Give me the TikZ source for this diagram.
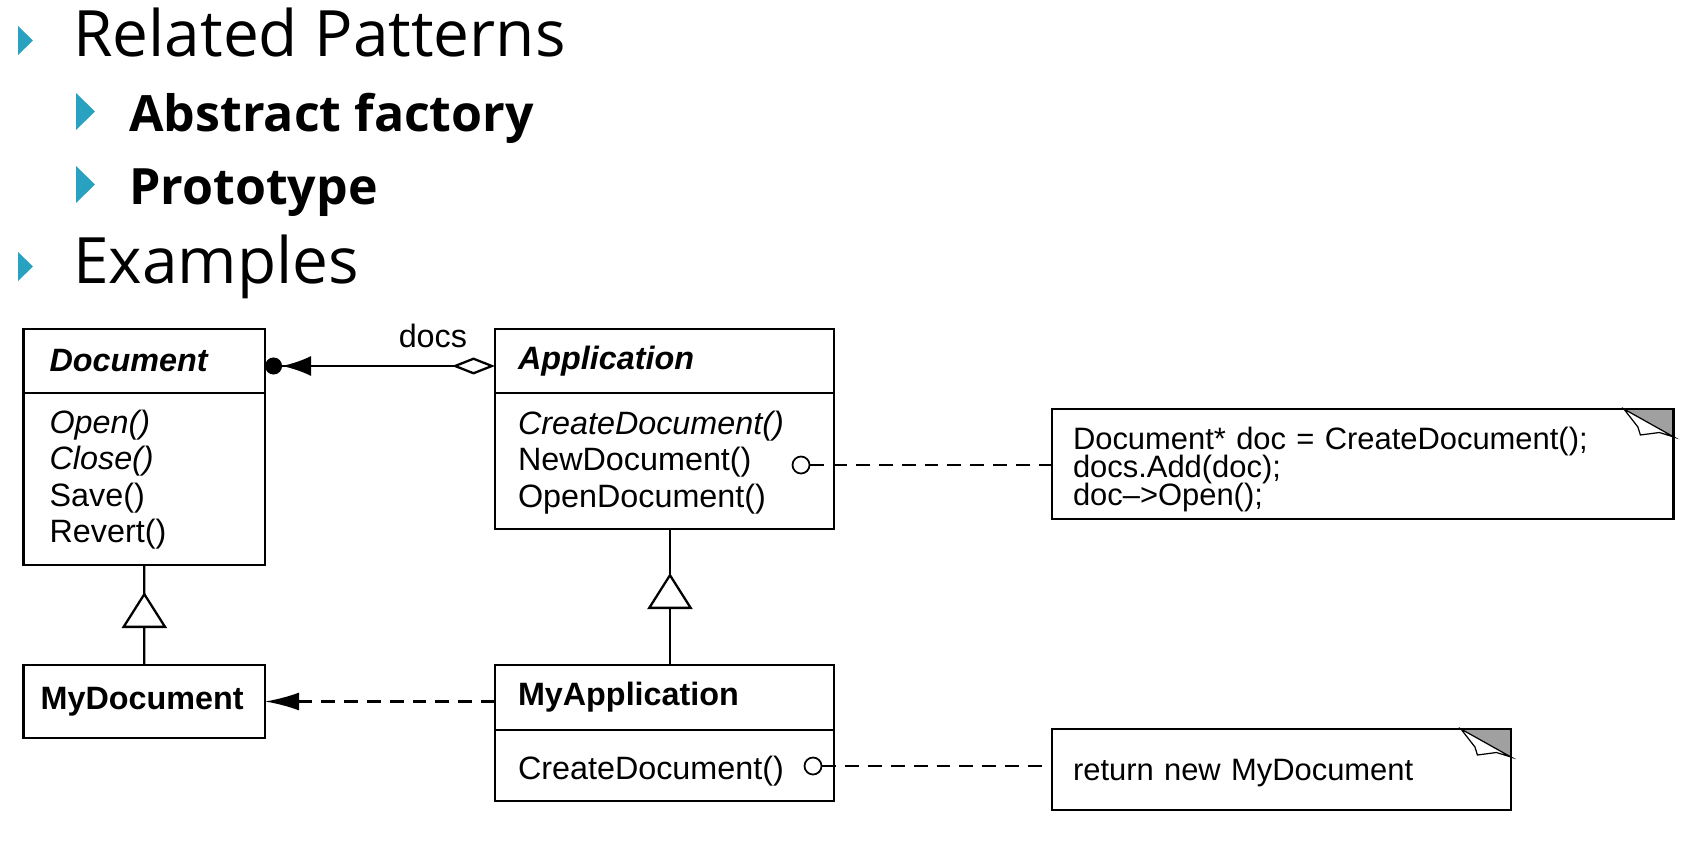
\documentclass[tikz,border=0pt]{standalone}
\usepackage{fontspec}
\newfontfamily\slidefont{Open Sans}
\newfontfamily\umlfont{Liberation Sans}
\usetikzlibrary{arrows.meta, positioning, decorations.markings}
\definecolor{bulletteal}{RGB}{41,161,192}
\definecolor{foldgray}{RGB}{160,160,160}
\newcommand{\umltext}{\umlfont\fontsize{18.4}{20.7}\selectfont}
\newcommand{\notetext}{\umlfont\fontsize{17.6}{16.2}\selectfont\lineskiplimit=-20pt}
\tikzset{
    heading/.style={anchor=base west, inner sep=0pt, font=\slidefont\fontsize{36.4}{40}\selectfont},
    subheading/.style={anchor=base west, inner sep=0pt, font=\slidefont\bfseries\fontsize{28.5}{32}\selectfont},
    classhead/.style={rectangle, draw, line width=1.6pt, outer sep=0pt, align=left, font=\umltext\bfseries},
    classbody/.style={rectangle, draw, line width=1.6pt, outer sep=0pt, align=left, font=\umltext},
    note/.style={rectangle, draw, line width=1.6pt, outer sep=0pt, align=left, inner xsep=0.42cm, font=\notetext},
    linkdot/.style={circle, draw, line width=1pt, inner sep=0pt, minimum size=0.34cm, fill=white},
    assoc/.style={line width=1.3pt},
    creates/.style={line width=1.3pt, dash pattern=on 7.9pt off 5.1pt, -{Latex[length=0.68cm, width=0.36cm]}},
    notelink/.style={line width=1.3pt, dash pattern=on 7.9pt off 5.1pt},
    generalize/.style={line width=1.3pt, postaction={decorate},
        decoration={markings, mark=at position #1 with {\arrow{Triangle[length=0.72cm, width=0.9cm, fill=white]}}}}
}
\begin{document}
\begin{tikzpicture}[x=0.02cm, y=-0.02cm]
    \useasboundingbox (0,0) rectangle (1683,845);

    % Bullet list
    \foreach \y in {26, 252}
        \fill[bulletteal] (18,\y) -- (33,\y+14.5) -- (18,\y+29) -- cycle;
    \foreach \y in {93, 166}
        \fill[bulletteal] (76,\y) -- (95,\y+18.5) -- (76,\y+37) -- cycle;
    \node (related) [heading] at (73,56) {Related Patterns};
    \node (abstract) [subheading] at (129,131) {Abstract factory};
    \node (prototype) [subheading] at (129,204) {Prototype};
    \node (examples) [heading] at (73,283) {Examples};

    % Classes
    \node (dochead) [classhead, text width=3.79cm, inner xsep=0.52cm, minimum height=1.28cm, anchor=north west] at (23.6,329) {\itshape Document};
    \node (docbody) [classbody, text width=3.79cm, inner xsep=0.52cm, minimum height=3.44cm, below=0pt of dochead] {\rule{0pt}{0.5cm}{\itshape Open()}\\{\itshape Close()}\\Save()\\Revert()};

    \node (apphead) [classhead, text width=5.86cm, inner xsep=0.46cm, minimum height=1.28cm, anchor=north west] at (495,329) {\itshape Application};
    \node (appbody) [classbody, text width=5.86cm, inner xsep=0.46cm, minimum height=2.72cm, below=0pt of apphead] {\rule{0pt}{0.53cm}{\itshape CreateDocument()}\\NewDocument()\\OpenDocument()};

    \node (mydoc) [classhead, text width=4.15cm, inner xsep=0.34cm, minimum height=1.46cm, anchor=north west] at (23.6,665) {MyDocument};

    \node (myapphead) [classhead, text width=5.86cm, inner xsep=0.46cm, minimum height=1.3cm, anchor=north west] at (495,665) {MyApplication};
    \node (myappbody) [classbody, text width=5.86cm, inner xsep=0.46cm, minimum height=1.42cm, below=0pt of myapphead] {\rule{0pt}{0.71cm}CreateDocument()};

    % Notes
    \node (codenote) [note, text width=11.6cm, minimum height=2.2cm, anchor=north west] at (1052,409) {\rule{0pt}{0.67cm}Document* doc = CreateDocument();\\docs.Add(doc);\\doc–>Open();};
    \node (returnnote) [note, text width=8.34cm, minimum height=1.62cm, anchor=north west] at (1052,729) {\rule{0pt}{0.57cm}return new MyDocument};
    \foreach \n in {codenote, returnnote} {
        \fill[foldgray] ([xshift=-1cm]\n.north east) -- (\n.north east) -- ([yshift=-0.56cm]\n.north east) -- cycle;
        \filldraw[fill=white, line width=0.7pt] ([xshift=-1cm]\n.north east) -- ++(0.28cm,-0.36cm) -- ++(0.05cm,-0.16cm) -- ++(0.38cm,0.05cm) -- ([yshift=-0.56cm]\n.north east) -- cycle;
        \draw[line width=1.6pt] ([xshift=-1.1cm]\n.north east) -- (\n.north east) -- ([yshift=-0.7cm]\n.north east);
    }

    % Connectors
    \draw[assoc, {Circle[length=0.34cm] Latex[length=0.58cm, width=0.4cm]}-{Diamond[open, length=0.86cm, width=0.34cm]}]
        ([yshift=-0.1cm]dochead.east) -- node[pos=0.73, above=0.34cm, inner sep=0pt, font=\umltext] (docslabel) {docs} ([yshift=-0.1cm]apphead.west);
    \draw[generalize=1.46cm] (mydoc.north) -- (docbody.south);
    \draw[generalize=1.84cm] ([xshift=0.11cm]myapphead.north) -- ([xshift=0.11cm]appbody.south);
    \draw[creates] (mydoc.east -| myapphead.west) -- (mydoc.east);

    \node (newdoclink) [linkdot] at (801,465) {};
    \node (createlink) [linkdot] at (813,766) {};
    \draw[notelink] (newdoclink) -- (newdoclink -| codenote.west);
    \draw[notelink] (createlink) -- (createlink -| returnnote.west);
\end{tikzpicture}
\end{document}
